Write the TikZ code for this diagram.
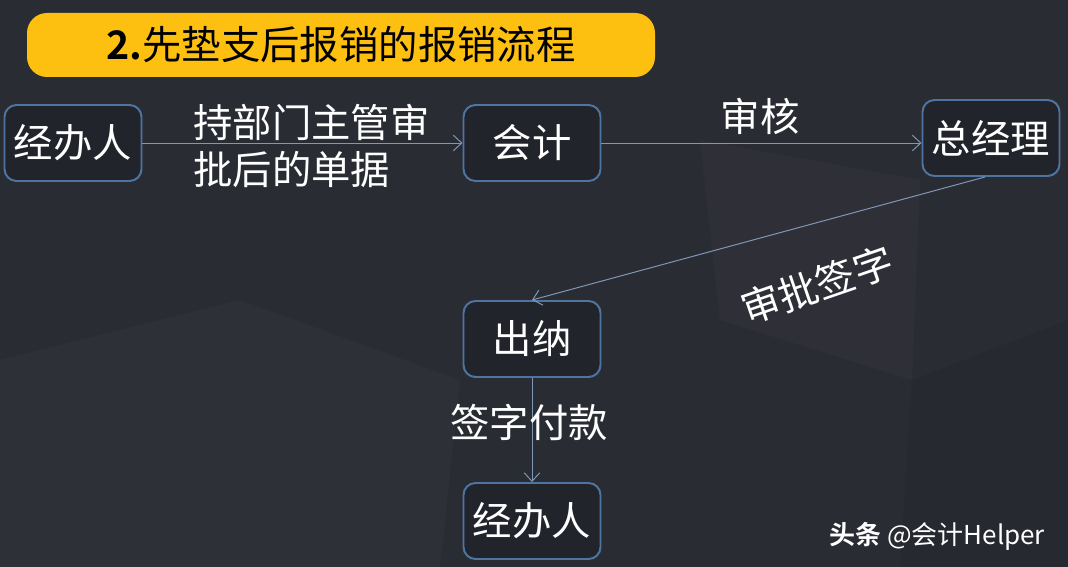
\documentclass[tikz,border=0pt]{standalone}
\usepackage{fontspec}
\setmainfont{Noto Sans CJK SC}[BoldFont={Noto Sans CJK SC Bold}]
\usetikzlibrary{positioning,calc,arrows.meta}
\definecolor{bgdark}{HTML}{2A2C33}
\definecolor{boxline}{HTML}{4E74A0}
\definecolor{boxfill}{HTML}{22242B}
\definecolor{arrowline}{HTML}{8098B8}
\definecolor{titleyellow}{HTML}{FDC010}

\tikzset{
  flowbox/.style={draw=boxline, line width=1.4pt, fill=boxfill, rounded corners=0.3cm,
    minimum width=3.425cm, minimum height=1.9cm, text=white, font=\fontsize{28}{34}\selectfont},
  flowlabel/.style={text=white, inner sep=0pt, font=\fontsize{28}{34}\selectfont},
  flowarrow/.style={draw=arrowline, line width=0.7pt, -{Straight Barb[length=6pt,width=11pt]}}
}

\begin{document}
\begin{tikzpicture}
  \useasboundingbox (0,0) rectangle (26.7,-14.175);
  \fill[bgdark] (0,0) rectangle (26.7,-14.175);
  % faint background facets
  \fill[white, opacity=0.025] (17.5,-3.5) -- (23,-4.5) -- (22.8,-9.5) -- (18,-8) -- cycle;
  \fill[white, opacity=0.02] (0,-9) -- (6,-7.5) -- (11.5,-9.5) -- (11,-14.175) -- (0,-14.175) -- cycle;
  \fill[black, opacity=0.06] (22.8,-9.5) -- (26.7,-8) -- (26.7,-14.175) -- (22.5,-14.175) -- cycle;

  \node[fill=titleyellow, rounded corners=0.5cm, minimum width=15.7cm, minimum height=1.6cm,
    font=\fontsize{28}{34}\selectfont] (title) at (8.525,-1.125) {\textbf{2.}先垫支后报销的报销流程};

  \node[flowbox] (jbr) at (1.825,-3.575) {经办人};
  \node[flowbox] (kj) at (13.3,-3.575) {会计};
  \node[flowbox] (zjl) at (24.775,-3.45) {总经理};
  \node[flowbox] (cn) at (13.3,-8.475) {出纳};
  \node[flowbox] (jbr2) at (13.3,-13.025) {经办人};

  \draw[flowarrow] (jbr) -- (kj);
  \draw[flowarrow] (kj.east) -- (kj.east -| zjl.west);
  \draw[flowarrow] ($(zjl.south)+(-0.15,0)$) -- (cn.north);
  \draw[flowarrow] (cn) -- (jbr2);

  \node[flowlabel, align=left, anchor=west] (lblsubmit) at (4.825,-3.65) {持部门主管审\\批后的单据};
  \node[flowlabel] (lblcheck) at (19,-2.9) {审核};
  \node[flowlabel, rotate=19] (lblsign) at (20.425,-7.125) {审批签字};
  \node[flowlabel] (lblpay) at (13.225,-10.55) {签字付款};

  \node[text=white, anchor=east, font=\fontsize{18.5}{22}\selectfont] (mark) at (26.25,-13.4)
    {\textbf{头条} @会计Helper};
\end{tikzpicture}
\end{document}
